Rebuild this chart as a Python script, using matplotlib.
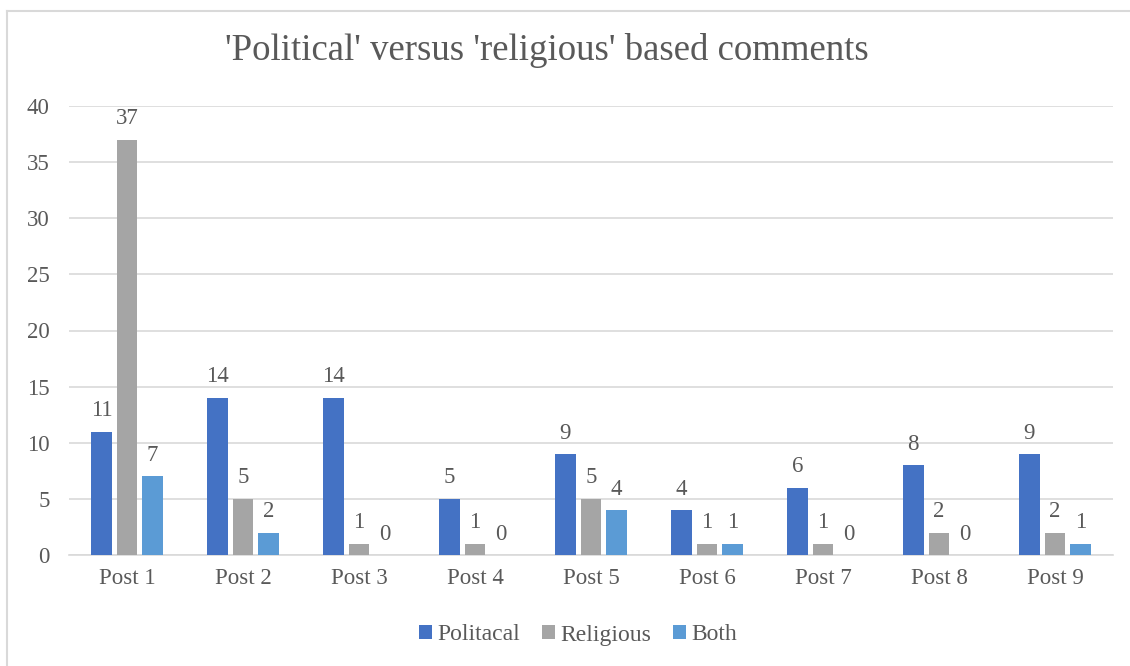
import matplotlib.pyplot as plt
from matplotlib.lines import Line2D
import numpy as np

posts = ['Post 1', 'Post 2', 'Post 3', 'Post 4', 'Post 5', 'Post 6', 'Post 7', 'Post 8', 'Post 9']
political = [11, 14, 14, 5, 9, 4, 6, 8, 9]
religious = [37, 5, 1, 1, 5, 1, 1, 2, 2]
both = [7, 2, 0, 0, 4, 1, 0, 0, 1]

plt.rcParams['font.family'] = ['Liberation Serif', 'DejaVu Serif']
txt = '#595959'

fig = plt.figure(figsize=(11.3, 6.66), dpi=100)
# plot area: x 69..1113 px, y 106..555 px
ax = fig.add_axes([69 / 1130, 1 - 555 / 666, (1113 - 69) / 1130, (555 - 106) / 666])

x = np.arange(len(posts))
w = 0.175
step = 0.221
series = [(political, '#4472C4', 'Politacal'),
          (religious, '#A5A5A5', 'Religious'),
          (both, '#5B9BD5', 'Both')]
for i, (vals, col, lab) in enumerate(series):
    pos = x + (i - 1) * step
    ax.bar(pos, vals, width=w, color=col, label=lab, zorder=3)
    for p, v in zip(pos, vals):
        ax.annotate(str(v), (p, v), xytext=(0, 7.5), textcoords='offset points',
                    ha='center', va='bottom', fontsize=16.5, color=txt)

ax.set_xlim(-0.5, len(posts) - 0.5)
ax.set_ylim(0, 40)
ax.set_yticks(range(0, 41, 5))
ax.set_xticks(x)
ax.set_xticklabels(posts)
ax.tick_params(axis='both', length=0, labelsize=16.5, colors=txt)
ax.tick_params(axis='y', pad=14)
ax.tick_params(axis='x', pad=9)
ax.grid(axis='y', color='#D9D9D9', linewidth=1.2, zorder=0)
for s in ['top', 'right', 'left']:
    ax.spines[s].set_visible(False)
ax.spines['bottom'].set_color('#D9D9D9')
ax.spines['bottom'].set_linewidth(1.2)

fig.text(547 / 1130, 1 - 50 / 666, "'Political' versus 'religious' based comments",
         ha='center', va='center', fontsize=26.5, color=txt)

leg = fig.legend(loc='center', bbox_to_anchor=(578 / 1130, 1 - 635 / 666), ncol=3, frameon=False,
                 fontsize=17, handlelength=0.55, handleheight=0.55, handletextpad=0.25,
                 columnspacing=0.9)
for t in leg.get_texts():
    t.set_color(txt)

# chart area border (only left and top edges show)
fig.add_artist(Line2D([7 / 1130, 7 / 1130], [0, 1 - 11 / 666], transform=fig.transFigure,
                      color='#D9D9D9', linewidth=1.5))
fig.add_artist(Line2D([7 / 1130, 1], [1 - 11 / 666, 1 - 11 / 666], transform=fig.transFigure,
                      color='#D9D9D9', linewidth=1.5))

fig.savefig('out.png', dpi=100)
